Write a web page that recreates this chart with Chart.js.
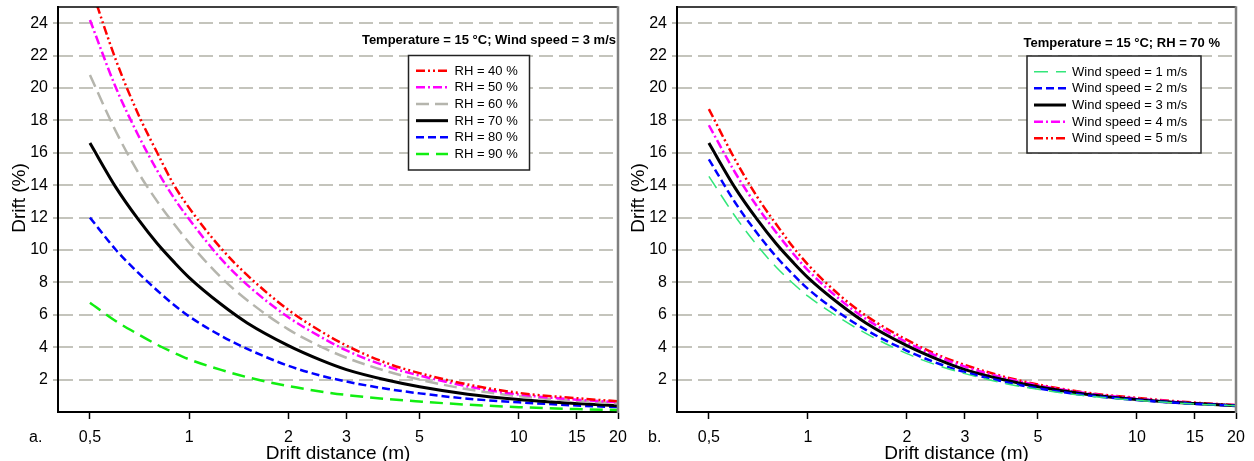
<!DOCTYPE html>
<html><head><meta charset="utf-8">
<script src="https://cdn.jsdelivr.net/npm/chart.js@4.4.1/dist/chart.umd.min.js"></script>
<style>
html,body{margin:0;padding:0;background:#fff;width:1254px;height:461px;overflow:hidden}
#ca{position:absolute;left:0;top:0}
#cb{position:absolute;left:619px;top:0}
</style></head><body>
<canvas id="ca" width="630" height="461"></canvas>
<canvas id="cb" width="635" height="461"></canvas>
<script>
// ---- data (drift distance in m, drift in %) ----
const distances = [0.5,0.6,0.7,0.8,0.9,1,1.25,1.5,2,2.5,3,4,5,7,10,15,20];
// panel a: Temperature = 15 °C; Wind speed = 3 m/s
const rh40 = [26.4,21.7,18.4,16.0,14.0,12.6,10.1,8.45,6.3,5.0,4.1,3.0,2.4,1.7,1.18,0.85,0.66];
const rh50 = [24.2,20.0,17.1,14.9,13.2,11.9,9.45,7.85,5.85,4.65,3.8,2.8,2.25,1.58,1.08,0.76,0.6];
const rh60 = [20.8,17.3,14.8,13.0,11.6,10.45,8.3,6.9,5.1,4.05,3.35,2.5,2.0,1.4,0.97,0.68,0.53];
const rh70 = [16.6,13.85,11.9,10.4,9.25,8.3,6.65,5.5,4.1,3.22,2.62,1.96,1.56,1.1,0.77,0.52,0.38];
const rh80 = [12.0,10.0,8.6,7.5,6.6,5.9,4.7,3.9,2.85,2.25,1.88,1.42,1.15,0.82,0.6,0.4,0.3];
const rh90 = [6.75,5.6,4.8,4.15,3.65,3.25,2.6,2.15,1.6,1.27,1.05,0.8,0.65,0.45,0.3,0.18,0.12];
// panel b: Temperature = 15 °C; RH = 70 %
const wind1 = [14.55,12.1,10.3,8.95,7.95,7.15,5.8,4.85,3.6,2.85,2.37,1.75,1.4,1.0,0.72,0.49,0.38];
const wind2 = [15.6,12.95,11.05,9.6,8.5,7.6,6.1,5.07,3.78,2.98,2.46,1.84,1.46,1.04,0.74,0.5,0.39];
const wind3 = rh70;
const wind4 = [17.7,14.8,12.7,11.1,9.8,8.75,6.95,5.75,4.3,3.4,2.8,2.08,1.65,1.16,0.83,0.56,0.42];
const wind5 = [18.7,15.6,13.3,11.6,10.2,9.1,7.2,5.95,4.45,3.5,2.9,2.15,1.7,1.2,0.87,0.58,0.43];

const xTickValues = [0.5,1,2,3,5,10,15,20];
const xTickLabels = ['0,5','1','2','3','5','10','15','20'];
const yTickValues = [2,4,6,8,10,12,14,16,18,20,22,24];

const labelsA = ['RH = 40 %','RH = 50 %','RH = 60 %','RH = 70 %','RH = 80 %','RH = 90 %'];
const labelsB = ['Wind speed = 1 m/s','Wind speed = 2 m/s','Wind speed = 3 m/s','Wind speed = 4 m/s','Wind speed = 5 m/s'];

// ---- styles ----
const sRed   = {color:'#ff0000', width:2.5, dash:[9,3,2,3,2,3]};
const sMag   = {color:'#ff00ff', width:2.5, dash:[9,3,2,3]};
const sGrey  = {color:'#b5b5ad', width:2.5, dash:[13,6]};
const sBlack = {color:'#000000', width:3,   dash:[]};
const sBlue  = {color:'#0000ff', width:2.5, dash:[8,4]};
const sGreen = {color:'#11ee11', width:2.5, dash:[13,7]};
const sMint  = {color:'#33e67a', width:1.5, dash:[14,8]};

const FONT = '"Liberation Sans", Arial, sans-serif';

function ds(label, values, st){
  return {
    label,
    data: values.map((v,i)=>({x:distances[i], y:v})),
    borderColor: st.color, borderWidth: st.width, borderDash: st.dash,
    pointRadius: 0, fill: false, cubicInterpolationMode: 'monotone'
  };
}

const decor = {
  id: 'decor',
  afterDraw(chart, args, o){
    const {ctx, chartArea:{left,right,top,bottom}} = chart;
    ctx.save();
    // frame
    ctx.setLineDash([]);
    ctx.strokeStyle = '#000'; ctx.lineWidth = 1.5;
    ctx.beginPath(); ctx.moveTo(left, top); ctx.lineTo(right, top); ctx.stroke();
    ctx.strokeStyle = '#808080'; ctx.lineWidth = 2.5;
    ctx.beginPath(); ctx.moveTo(right, top-0.75); ctx.lineTo(right, bottom+1); ctx.stroke();
    // y title
    ctx.fillStyle = '#000';
    ctx.font = '19px ' + FONT;
    ctx.save();
    ctx.translate(o.yTitleX, o.yTitleY); ctx.rotate(-Math.PI/2);
    ctx.textAlign = 'center'; ctx.textBaseline = 'alphabetic';
    ctx.fillText('Drift (%)', 0, 0);
    ctx.restore();
    // x title
    ctx.textAlign = 'center'; ctx.textBaseline = 'alphabetic';
    ctx.fillText('Drift distance (m)', (left+right)/2, o.xTitleBase);
    // panel letter
    ctx.font = '16px ' + FONT; ctx.textAlign = 'left';
    ctx.fillText(o.panel, o.panelX, o.panelBase);
    // annotation
    ctx.font = 'bold 13px ' + FONT; ctx.textAlign = 'right';
    ctx.fillText(o.note, o.noteX, o.noteBase);
    // legend box
    const L = o.legend;
    ctx.fillStyle = '#fff';
    ctx.fillRect(L.x, L.y, L.w, L.h);
    ctx.strokeStyle = '#222'; ctx.lineWidth = 1.5;
    ctx.strokeRect(L.x, L.y, L.w, L.h);
    ctx.font = '13px ' + FONT; ctx.textAlign = 'left'; ctx.textBaseline = 'middle';
    L.order.forEach((di, k) => {
      const d = chart.data.datasets[di];
      const yy = L.firstY + k*L.step;
      ctx.strokeStyle = d.borderColor; ctx.lineWidth = d.borderWidth;
      ctx.setLineDash(d.borderDash);
      ctx.beginPath(); ctx.moveTo(L.lineX0, yy); ctx.lineTo(L.lineX1, yy); ctx.stroke();
      ctx.setLineDash([]);
      ctx.fillStyle = '#000';
      ctx.fillText(d.label, L.textX, yy + 0.5);
    });
    ctx.restore();
  }
};

function makeOptions(padRight, decorOpts){
  return {
    responsive: false, animation: false, devicePixelRatio: 1,
    layout: {padding: {left: 0, right: padRight, top: 7, bottom: 0}},
    plugins: {legend: {display: false}, tooltip: {enabled: false}, decor: decorOpts},
    scales: {
      x: {
        type: 'logarithmic', min: 0.4, max: 20,
        afterBuildTicks: s => { s.ticks = xTickValues.map(v => ({value: v, major: false})); },
        afterFit: s => { s.height = 49; s.paddingLeft = 0; s.paddingRight = 0; },
        ticks: {
          autoSkip: false, maxRotation: 0, minRotation: 0, padding: 9,
          color: '#000', font: {family: FONT, size: 16},
          callback: (v, i) => xTickLabels[i]
        },
        grid: {drawOnChartArea: false, drawTicks: true, tickLength: 7, tickColor: '#000', tickWidth: 1.5, tickBorderDash: []},
        border: {display: true, color: '#000', width: 2}
      },
      y: {
        type: 'linear', min: 0, max: 25,
        afterBuildTicks: s => { s.ticks = yTickValues.map(v => ({value: v})); },
        afterFit: s => { s.width = 58; s.paddingTop = 0; s.paddingBottom = 0; },
        ticks: {padding: 5, color: '#000', font: {family: FONT, size: 16}},
        grid: {drawOnChartArea: true, drawTicks: true, tickLength: 5, color: '#c4c4bc', lineWidth: 2, tickColor: '#bdbdb5', tickWidth: 2, tickBorderDash: []},
        border: {display: true, color: '#000', width: 2, dash: [14,6]}
      }
    }
  };
}

new Chart(document.getElementById('ca'), {
  type: 'line',
  data: {datasets: [
    ds(labelsA[0], rh40, sRed),
    ds(labelsA[1], rh50, sMag),
    ds(labelsA[2], rh60, sGrey),
    ds(labelsA[3], rh70, sBlack),
    ds(labelsA[4], rh80, sBlue),
    ds(labelsA[5], rh90, sGreen)
  ]},
  options: makeOptions(12, {
    yTitleX: 25.3, yTitleY: 198, xTitleBase: 459, panel: 'a.', panelX: 29, panelBase: 442,
    note: 'Temperature = 15 °C; Wind speed = 3 m/s', noteX: 616, noteBase: 43.5,
    legend: {x: 408.5, y: 55.5, w: 121, h: 114.5, firstY: 70.7, step: 16.66, lineX0: 416, lineX1: 448, textX: 454.5, order: [0,1,2,3,4,5]}
  }),
  plugins: [decor]
});

new Chart(document.getElementById('cb'), {
  type: 'line',
  data: {datasets: [
    ds(labelsB[0], wind1, sMint),
    ds(labelsB[1], wind2, sBlue),
    ds(labelsB[2], wind3, sBlack),
    ds(labelsB[3], wind4, sMag),
    ds(labelsB[4], wind5, sRed)
  ]},
  options: makeOptions(18, {
    yTitleX: 25.3, yTitleY: 198, xTitleBase: 459, panel: 'b.', panelX: 29, panelBase: 442,
    note: 'Temperature = 15 °C; RH = 70 %', noteX: 601, noteBase: 46.5,
    legend: {x: 408, y: 56, w: 174, h: 97, firstY: 71.7, step: 16.66, lineX0: 415, lineX1: 447, textX: 453, order: [0,1,2,3,4]}
  }),
  plugins: [decor]
});
</script>
</body></html>
